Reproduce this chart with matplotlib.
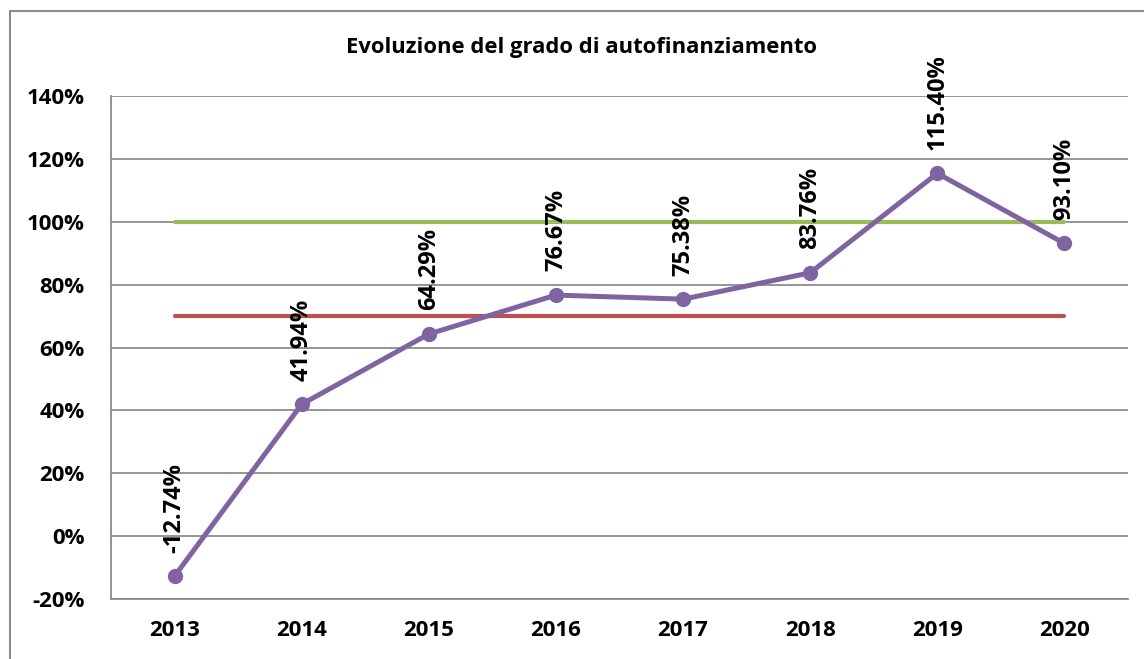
import matplotlib
matplotlib.use("Agg")
import matplotlib.pyplot as plt
from matplotlib.patches import Rectangle
from matplotlib.ticker import FuncFormatter

years = ["2013", "2014", "2015", "2016", "2017", "2018", "2019", "2020"]
values = [-12.74, 41.94, 64.29, 76.67, 75.38, 83.76, 115.40, 93.10]
target_high = [100] * len(years)
target_low = [70] * len(years)
title = "Evoluzione del grado di autofinanziamento"

plt.rcParams['font.family'] = ['Open Sans', 'DejaVu Sans']
plt.rcParams['font.weight'] = 'bold'

fig = plt.figure(figsize=(11.44, 6.59), dpi=100)
ax = fig.add_axes([111/1144, 1-599/659, (1128-111)/1144, (599-96)/659])

x = list(range(len(years)))
ax.plot(x, target_high, color="#9BBB59", lw=3.0, solid_capstyle='round', zorder=2)
ax.plot(x, target_low, color="#C0504D", lw=3.0, solid_capstyle='round', zorder=2)
ax.plot(x, values, color="#8064A2", lw=3.6, marker='o', markersize=10,
        solid_capstyle='round', zorder=3)

for xi, v in zip(x, values):
    ax.annotate(f"{v:.2f}%", (xi, v), xytext=(0, 17), textcoords='offset points',
                rotation=90, ha='center', va='bottom', fontsize=17, fontweight='bold')

ax.set_xlim(-0.5, len(years) - 0.5)
ax.set_ylim(-20, 140)
ax.set_yticks(range(-20, 141, 20))
ax.yaxis.set_major_formatter(FuncFormatter(lambda v, p: f"{v:.0f}%"))
ax.set_xticks(x)
ax.set_xticklabels(years)
ax.tick_params(axis='both', length=0, labelsize=16)
ax.tick_params(axis='y', pad=19)
ax.tick_params(axis='x', pad=15)
for lab in ax.get_xticklabels() + ax.get_yticklabels():
    lab.set_fontweight('bold')

ax.grid(axis='y', color="#8C8C8C", lw=1.3)
ax.set_axisbelow(True)
for s in ['top', 'right']:
    ax.spines[s].set_visible(False)
for s in ['left', 'bottom']:
    ax.spines[s].set_color("#8C8C8C")
    ax.spines[s].set_linewidth(1.3)

fig.text(582/1144, 1-47/659, title, ha='center', va='center', fontsize=15.8, fontweight='bold')

fig.patches.append(Rectangle((9.5/1144, -0.05), 1.2, 1.05 - 10.5/659, transform=fig.transFigure,
                             fill=False, edgecolor="#8C8C8C", lw=1.5))

fig.savefig("out.png", dpi=100)
